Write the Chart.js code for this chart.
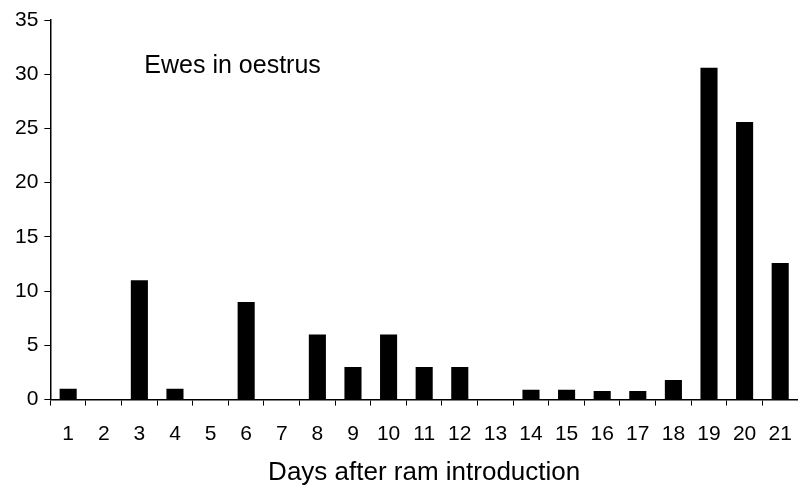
<!DOCTYPE html>
<html>
<head>
<meta charset="utf-8">
<script src="https://cdn.jsdelivr.net/npm/chart.js@4"></script>
<style>
  html, body { margin: 0; padding: 0; background: #fff; overflow: hidden; }
  #wrap { width: 798px; height: 486px; }
</style>
</head>
<body>
<div id="wrap"><canvas id="chart"></canvas></div>
<script>
const days = ["1", "2", "3", "4", "5", "6", "7", "8", "9", "10", "11",
  "12", "13", "14", "15", "16", "17", "18", "19", "20", "21"];
const ewes = [1, 0, 11, 1, 0, 9, 0, 6, 3, 6, 3, 3, 0, 0.9, 0.9, 0.8, 0.8, 1.8, 30.6, 25.6, 12.6];
const yTicks = [0, 5, 10, 15, 20, 25, 30, 35];

const FONT = "'Liberation Sans', Arial, sans-serif";

// draws the "Ewes in oestrus" note inside the plot area
const notePlugin = {
  id: "note",
  afterDraw(chart) {
    const ctx = chart.ctx;
    const area = chart.chartArea;
    ctx.save();
    ctx.fillStyle = "#000";
    ctx.font = "25px " + FONT;
    ctx.textBaseline = "middle";
    ctx.fillText("Ewes in oestrus", area.left + 94, area.top + 46);
    ctx.restore();
  },
};

const ctx = document.getElementById("chart").getContext("2d");
new Chart(ctx, {
  type: "bar",
  data: {
    labels: days,
    datasets: [
      {
        label: "Ewes in oestrus",
        data: ewes,
        backgroundColor: "#000",
        borderWidth: 0,
        barPercentage: 0.48,
        categoryPercentage: 1,
      },
    ],
  },
  options: {
    responsive: true,
    maintainAspectRatio: false,
    animation: false,
    layout: { padding: { top: 20, right: 0, left: 9, bottom: -2 } },
    plugins: {
      legend: { display: false },
      tooltip: { enabled: false },
    },
    scales: {
      x: {
        // axis runs to the right edge, like the original
        afterFit(scale) {
          scale.paddingLeft = 0;
          scale.paddingRight = 0;
        },
        grid: {
          display: true,
          drawOnChartArea: false,
          drawTicks: true,
          tickLength: 6,
          color: "#000",
          offset: true,
        },
        border: { display: true, color: "#000", width: 1.5 },
        ticks: {
          color: "#000",
          font: { family: FONT, size: 21 },
          padding: 16,
          maxRotation: 0,
          autoSkip: false,
        },
        title: {
          display: true,
          text: "Days after ram introduction",
          color: "#000",
          font: { family: FONT, size: 26 },
          padding: { top: -6, bottom: 0 },
        },
      },
      y: {
        min: 0,
        max: 35,
        afterBuildTicks(axis) {
          axis.ticks = yTicks.map((v) => ({ value: v }));
        },
        grid: {
          display: true,
          drawOnChartArea: false,
          drawTicks: true,
          tickLength: 6,
          color: "#000",
        },
        border: { display: true, color: "#000", width: 1.5 },
        ticks: {
          color: "#000",
          font: { family: FONT, size: 21 },
          padding: 6,
        },
      },
    },
  },
  plugins: [notePlugin],
});
</script>
</body>
</html>
